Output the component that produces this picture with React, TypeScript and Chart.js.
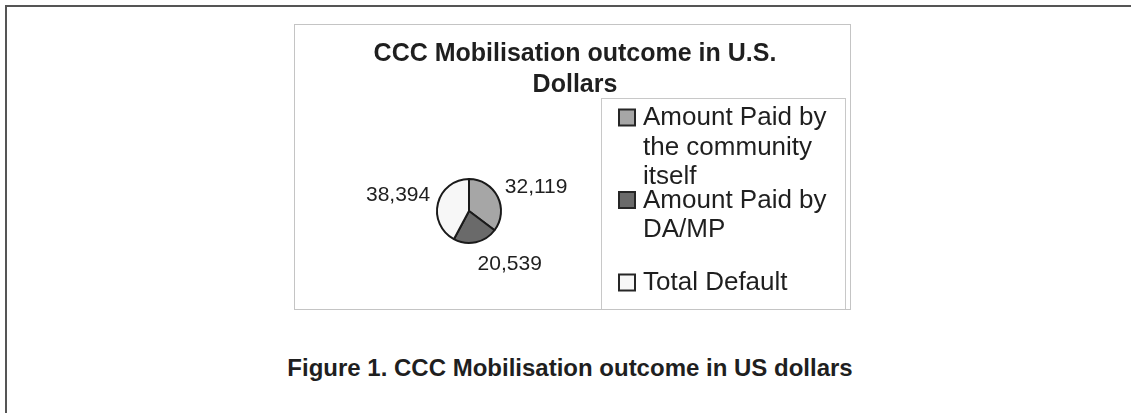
import React, { useEffect, useRef } from "react";
import { Chart, registerables } from "chart.js";

Chart.register(...registerables);

const categories = [
  "Amount Paid by the community itself",
  "Amount Paid by DA/MP",
  "Total Default",
];
const amounts = [32119, 20539, 38394];
const sliceColors = ["#a6a6a6", "#6a6a6a", "#f7f7f7"];
const titleLines = ["CCC Mobilisation outcome in U.S.", "Dollars"];
const caption = "Figure 1. CCC Mobilisation outcome in US dollars";

const FONT = '"Liberation Sans", Arial, Helvetica, sans-serif';
const TEXT = "#1f1f1f";

const titlePlugin = {
  id: "boxTitle",
  afterDraw(chart: any) {
    const ctx = chart.ctx;
    ctx.save();
    ctx.font = `bold 25px ${FONT}`;
    ctx.fillStyle = TEXT;
    ctx.textAlign = "center";
    ctx.textBaseline = "middle";
    titleLines.forEach((line, i) => {
      ctx.fillText(line, 280, 29 + i * 31);
    });
    ctx.restore();
  },
};

const labelPlugin = {
  id: "outsideLabels",
  afterDatasetsDraw(chart: any) {
    const ctx = chart.ctx;
    const meta = chart.getDatasetMeta(0);
    ctx.save();
    ctx.font = `21px ${FONT}`;
    ctx.fillStyle = TEXT;
    meta.data.forEach((arc: any, i: number) => {
      const p = arc.getProps(["x", "y", "startAngle", "endAngle", "outerRadius"], true);
      const mid = (p.startAngle + p.endAngle) / 2;
      const dx = Math.cos(mid);
      const dy = Math.sin(mid);
      const r = p.outerRadius + 8;
      const px = p.x + dx * r;
      let py = p.y + dy * r;
      ctx.textAlign = dx > 0.1 ? "left" : dx < -0.1 ? "right" : "center";
      if (dy > 0.7) {
        ctx.textBaseline = "top";
        py += 4;
      } else {
        ctx.textBaseline = "alphabetic";
      }
      const v = chart.data.datasets[0].data[i] as number;
      ctx.fillText(v.toLocaleString("en-US"), px, py);
    });
    ctx.restore();
  },
};

function wrap(ctx: CanvasRenderingContext2D, text: string, maxW: number): string[] {
  const words = text.split(" ");
  const lines: string[] = [];
  let cur = "";
  for (const w of words) {
    const t = cur ? cur + " " + w : w;
    if (cur && ctx.measureText(t).width > maxW) {
      lines.push(cur);
      cur = w;
    } else {
      cur = t;
    }
  }
  if (cur) lines.push(cur);
  return lines;
}

const legendPlugin = {
  id: "boxLegend",
  afterDraw(chart: any) {
    const ctx = chart.ctx;
    const labels = chart.data.labels as string[];
    const colors = chart.data.datasets[0].backgroundColor as string[];
    ctx.save();
    ctx.strokeStyle = "#c8c8c8";
    ctx.lineWidth = 1;
    ctx.strokeRect(306.5, 73.5, 244, 240);
    ctx.font = `26px ${FONT}`;
    ctx.textAlign = "left";
    ctx.textBaseline = "middle";
    labels.forEach((lab, i) => {
      const y0 = 93 + i * 82.5;
      ctx.fillStyle = colors[i];
      ctx.fillRect(324, y0 - 8.5, 16, 16);
      ctx.strokeStyle = "#262626";
      ctx.lineWidth = 2;
      ctx.strokeRect(324, y0 - 8.5, 16, 16);
      ctx.fillStyle = TEXT;
      const lines = wrap(ctx, lab, 196);
      lines.forEach((ln, j) => {
        ctx.fillText(ln, 348, y0 + j * 29.5);
      });
    });
    ctx.restore();
  },
};

export default function App() {
  const ref = useRef<HTMLCanvasElement | null>(null);

  useEffect(() => {
    if (!ref.current) return;
    const chart = new Chart(ref.current, {
      type: "pie",
      data: {
        labels: categories,
        datasets: [
          {
            data: amounts,
            backgroundColor: sliceColors,
            borderColor: "#1a1a1a",
            borderWidth: 2,
          },
        ],
      },
      options: {
        responsive: false,
        animation: false,
        radius: 32,
        layout: { padding: { left: 0, right: 207, top: 90, bottom: 2 } },
        plugins: {
          legend: { display: false },
          title: { display: false },
          tooltip: { enabled: false },
        },
      } as any,
      plugins: [titlePlugin, labelPlugin, legendPlugin],
    });
    return () => chart.destroy();
  }, []);

  return (
    <div style={{ position: "relative", width: 1131, height: 413, overflow: "hidden", background: "#fff" }}>
      <style>{`body{margin:0;background:#fff;}`}</style>
      <div
        style={{
          position: "absolute",
          left: 5,
          top: 5,
          width: 1200,
          height: 500,
          borderLeft: "2px solid #555",
          borderTop: "2px solid #555",
        }}
      />
      <div
        style={{
          position: "absolute",
          left: 294,
          top: 24,
          width: 555,
          height: 284,
          border: "1px solid #c4c4c4",
          background: "#fff",
        }}
      >
        <canvas ref={ref} width={555} height={284} style={{ display: "block", width: 555, height: 284 }} />
      </div>
      <div
        style={{
          position: "absolute",
          left: 0,
          top: 354,
          width: 1140,
          textAlign: "center",
          font: `bold 24px ${FONT}`,
          lineHeight: "28px",
          color: TEXT,
        }}
      >
        {caption}
      </div>
    </div>
  );
}
